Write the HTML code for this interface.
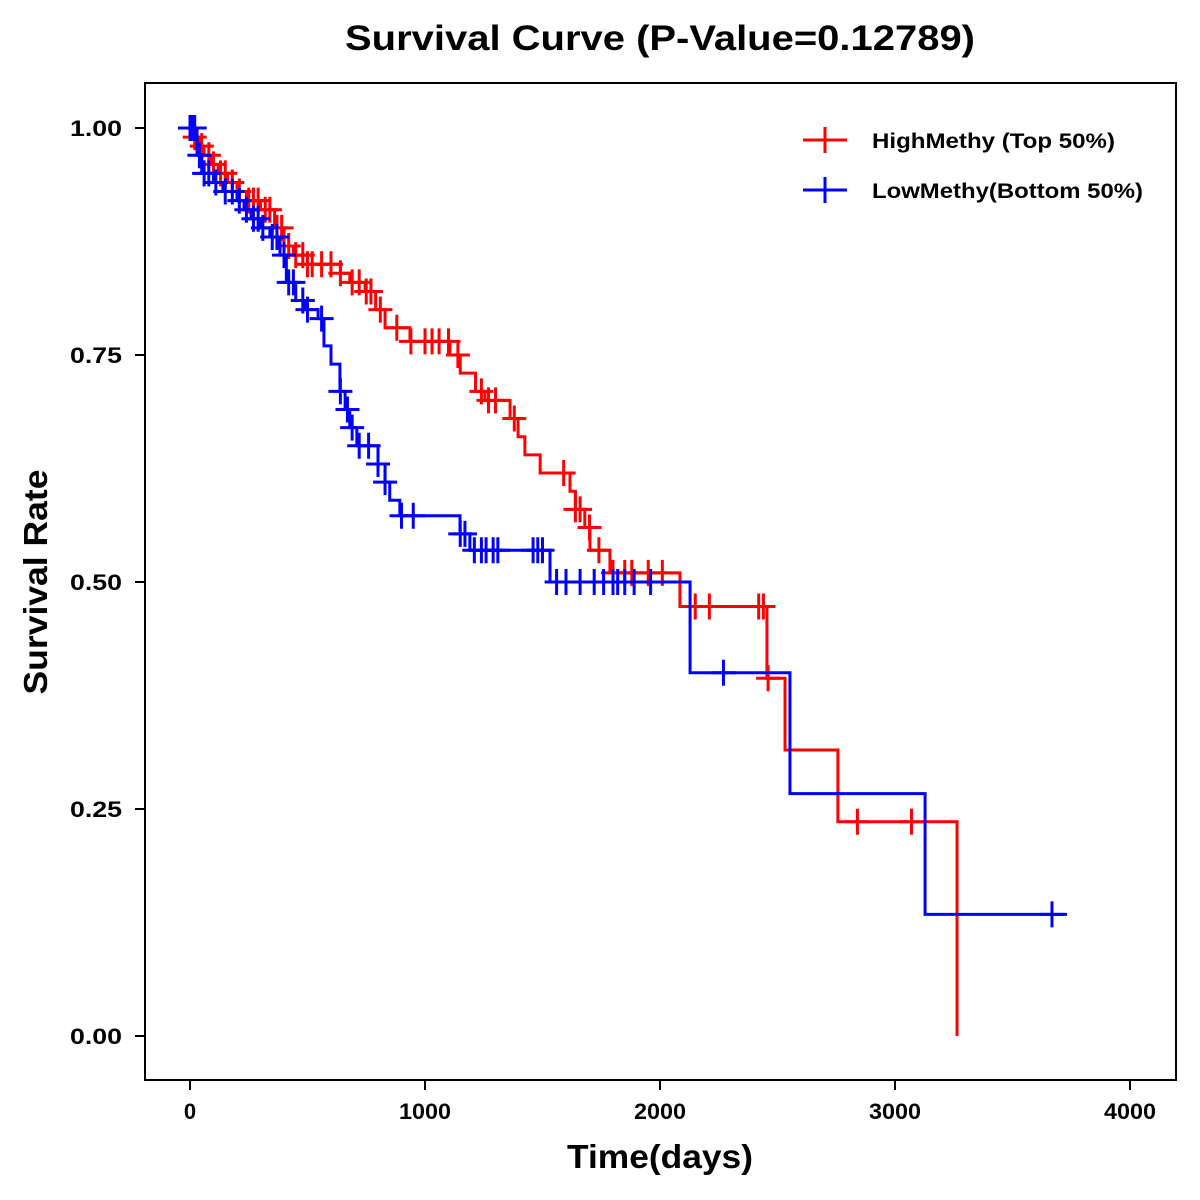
<!DOCTYPE html>
<html><head><meta charset="utf-8"><style>
html,body{margin:0;padding:0;background:#fff;}
svg{display:block;font-family:"Liberation Sans",Arial,sans-serif;}
</style></head><body>
<svg id="chart" width="1200" height="1200" viewBox="0 0 1200 1200">
<text x="660" y="50" text-anchor="middle" font-size="35" font-weight="bold" textLength="630" lengthAdjust="spacingAndGlyphs">Survival Curve (P-Value=0.12789)</text>
<rect x="145" y="83" width="1031" height="997" fill="none" stroke="#000" stroke-width="2"/>
<g id="xaxis"></g>
<g id="yaxis"></g>
<text x="660" y="1168" text-anchor="middle" font-size="33" font-weight="bold" textLength="186" lengthAdjust="spacingAndGlyphs">Time(days)</text>
<text transform="translate(47,582) rotate(-90)" text-anchor="middle" font-size="33" font-weight="bold" textLength="225" lengthAdjust="spacingAndGlyphs">Survival Rate</text>
<g id="series"></g>
<g>
<g>
<line x1="803" y1="140" x2="847" y2="140" stroke="#f00" stroke-width="3"/><line x1="825" y1="127" x2="825" y2="153" stroke="#f00" stroke-width="3"/>
<text x="872" y="148" font-size="21" font-weight="bold" textLength="243" lengthAdjust="spacingAndGlyphs">HighMethy (Top 50%)</text></g>
<g>
<line x1="803" y1="190" x2="847" y2="190" stroke="#00f" stroke-width="3"/><line x1="825" y1="177" x2="825" y2="203" stroke="#00f" stroke-width="3"/>
<text x="872" y="198" font-size="21" font-weight="bold" textLength="271" lengthAdjust="spacingAndGlyphs">LowMethy(Bottom 50%)</text></g>
</g>
</svg>
<script>
const xTicks=[0,1000,2000,3000,4000];
const yTicks=[0,0.25,0.5,0.75,1.0];
const yTickLabels=["0.00","0.25","0.50","0.75","1.00"];
const highTimes=[20,40,60,90,120,160,200,240,300,360,400,440,500,640,680,745,790,830,936,1106,1150,1215,1255,1362,1396,1425,1490,1617,1640,1680,1702,1787,2085,2455,2532,2757,3264];
const highSurv=[0.99,0.98,0.97,0.96,0.95,0.94,0.93,0.92,0.91,0.89,0.87,0.86,0.85,0.84,0.83,0.82,0.80,0.78,0.765,0.75,0.73,0.71,0.70,0.68,0.66,0.64,0.62,0.60,0.58,0.56,0.535,0.51,0.473,0.394,0.315,0.236,0];
const highEnd=3264;
const highCensor=[20,50,80,100,130,150,180,210,250,270,290,320,340,370,390,420,450,480,500,520,560,600,640,690,720,750,770,810,880,940,1000,1030,1060,1100,1140,1240,1270,1300,1380,1590,1640,1660,1700,1740,1800,1850,1880,1950,2010,2150,2210,2420,2440,2460,2840,3070];
const lowTimes=[30,50,100,140,200,230,260,300,340,383,410,450,490,545,570,600,638,660,680,710,800,830,850,893,1149,1191,1532,2128,2553,3128];
const lowSurv=[0.97,0.95,0.94,0.93,0.92,0.91,0.90,0.89,0.88,0.86,0.83,0.81,0.80,0.79,0.76,0.74,0.71,0.69,0.67,0.65,0.63,0.61,0.59,0.573,0.553,0.535,0.50,0.40,0.267,0.134];
const lowEnd=3732;
const lowCensor=[0,10,20,40,60,80,110,150,180,210,240,270,290,310,350,370,400,420,440,480,500,560,640,670,690,720,760,800,830,900,950,1150,1170,1210,1240,1260,1290,1310,1460,1480,1500,1560,1600,1660,1720,1760,1800,1820,1850,1890,1960,2270,3668];

const NS="http://www.w3.org/2000/svg";
const xs=t=>190+t*0.235;
const ys=v=>1036-v*908;
function mk(tag,attrs,parent){const e=document.createElementNS(NS,tag);for(const k in attrs)e.setAttribute(k,attrs[k]);parent.appendChild(e);return e;}
const xa=document.getElementById('xaxis'),ya=document.getElementById('yaxis'),sg=document.getElementById('series');
xTicks.forEach(t=>{
 const l=mk('line',{x1:xs(t),x2:xs(t),y1:1080,y2:1090,stroke:'#000','stroke-width':2},xa);
 
 
 const tx=mk('text',{x:xs(t),y:1119,'text-anchor':'middle','font-size':22,'font-weight':'bold'},xa);
 tx.textContent=t;
 if(String(t).length>1){tx.setAttribute('textLength',String(t).length*13);tx.setAttribute('lengthAdjust','spacingAndGlyphs');}
 
 
});
yTicks.forEach((v,i)=>{
 const l=mk('line',{x1:135,x2:145,y1:ys(v),y2:ys(v),stroke:'#000','stroke-width':2},ya);
 
 
 const tx=mk('text',{x:122,y:ys(v)+8,'text-anchor':'end','font-size':22,'font-weight':'bold',textLength:52,lengthAdjust:'spacingAndGlyphs'},ya);
 tx.textContent=yTickLabels[i];
 
 
});
function survAt(times,surv,t){let s=1;for(let i=0;i<times.length;i++){if(times[i]<=t)s=surv[i];else break;}return s;}
function draw(times,surv,end,cens,color,name){
 let d=`M${xs(0)},${ys(1)}`;
 times.forEach((t,i)=>{d+=` H${xs(t)} V${ys(surv[i])}`;});
 d+=` H${xs(end)}`;
 const p=mk('path',{d:d,fill:'none',stroke:color,'stroke-width':3},sg);
 
 
 cens.forEach(t=>{
  const y=ys(survAt(times,surv,t)),x=xs(t);
  const g=mk('path',{d:`M${x-12},${y} H${x+12} M${x},${y-13} V${y+13}`,stroke:color,'stroke-width':3,fill:'none'},sg);
  
  
 });
}
draw(highTimes,highSurv,highEnd,highCensor,'#f00','high-methy');
draw(lowTimes,lowSurv,lowEnd,lowCensor,'#00f','low-methy');
</script>
</body></html>
